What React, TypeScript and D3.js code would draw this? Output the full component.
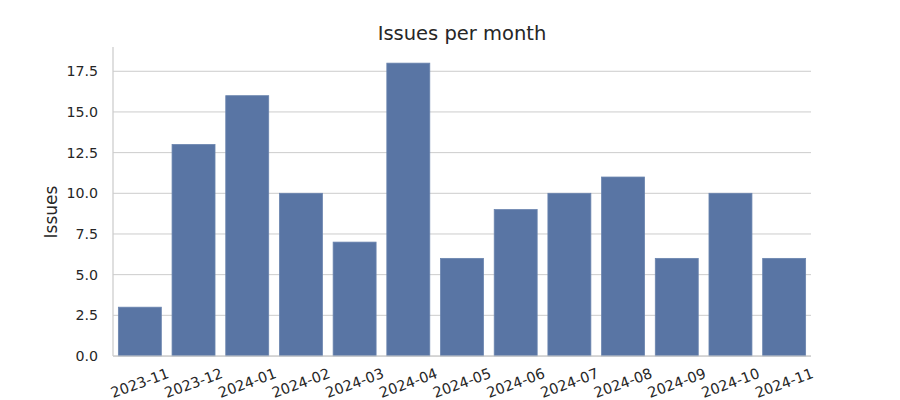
import React from "react";
import * as d3 from "d3";

const months = ["2023-11","2023-12","2024-01","2024-02","2024-03","2024-04","2024-05","2024-06","2024-07","2024-08","2024-09","2024-10","2024-11"];
const issues = [3, 13, 16, 10, 7, 18, 6, 9, 10, 11, 6, 10, 6];
const yTicks = [0, 2.5, 5, 7.5, 10, 12.5, 15, 17.5];

const W = 900, H = 400;
const left = 113, right = 811, top = 48.5, bottom = 356;
const font = "DejaVu Sans, sans-serif";
const textColor = "#262626";

export default function App() {
  const x = d3.scaleBand<string>().domain(months).range([left, right]).paddingInner(0.2).paddingOuter(0.1);
  const y = d3.scaleLinear().domain([0, 18.9]).range([bottom, top]);
  const ylY = 212;
  return (
    <svg width={W} height={H} style={{ position: "absolute", left: 0, top: 0, background: "#fff" }} fontFamily={font}>
      {yTicks.map(t => (
        <g key={t}>
          <line x1={left} x2={right} y1={y(t)} y2={y(t)} stroke="#cccccc" strokeWidth={1} />
          <text x={left - 15} y={y(t)} dy="0.35em" textAnchor="end" fontSize={14.2} fill={textColor}>{t.toFixed(1)}</text>
        </g>
      ))}
      {months.map((m, i) => (
        <rect key={m} x={x(m)} y={y(issues[i])} width={x.bandwidth()} height={y(0) - y(issues[i])} fill="#5975a4" stroke="#6a84ae" strokeWidth={0.8} />
      ))}
      <line x1={left} x2={left} y1={top - 1.5} y2={bottom} stroke="#cccccc" strokeWidth={1.25} />
      <line x1={left} x2={right} y1={bottom} y2={bottom} stroke="#cccccc" strokeWidth={1.25} />
      {months.map(m => {
        const cx = (x(m) as number) + x.bandwidth() / 2;
        const cy = 383;
        return (
          <text key={m} x={cx} y={cy} dy="0.35em" textAnchor="middle" fontSize={14.5} fill={textColor} transform={`rotate(-20 ${cx} ${cy})`}>{m}</text>
        );
      })}
      <text x={51} y={ylY} dy="0.35em" textAnchor="middle" fontSize={17} fill={textColor} transform={`rotate(-90 51 ${ylY})`}>Issues</text>
      <text x={(left + right) / 2} y={40} textAnchor="middle" fontSize={19.5} fill={textColor}>Issues per month</text>
    </svg>
  );
}
